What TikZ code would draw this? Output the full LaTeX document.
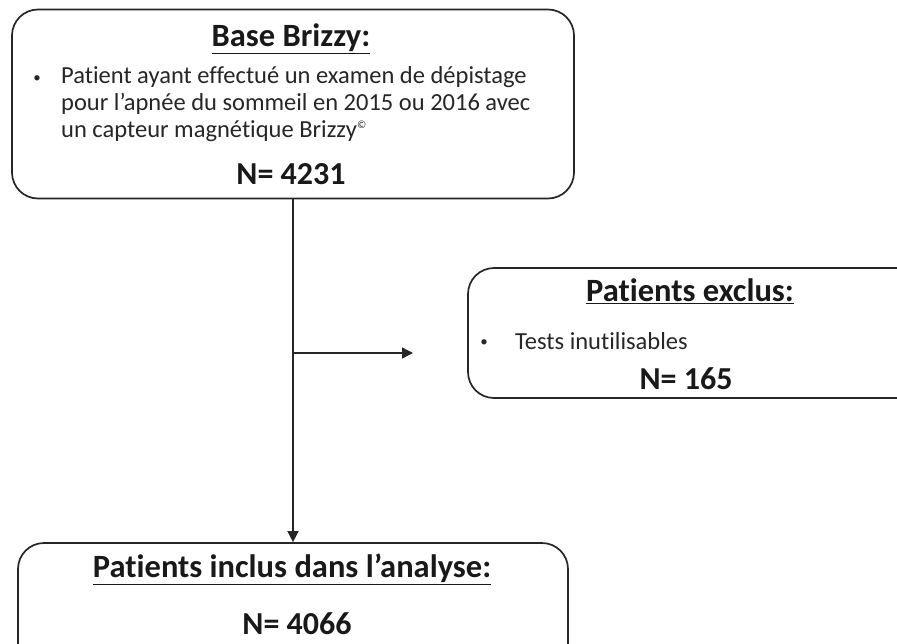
\documentclass[tikz,border=0pt]{standalone}
\usepackage{fontspec}
\setmainfont{Carlito}[Ligatures={NoCommon,NoContextual}]
\usetikzlibrary{arrows.meta,positioning}

\begin{document}
\begin{tikzpicture}[x=1pt,y=-1pt,
  box/.style={draw=black!85,rounded corners=26pt,line width=1.7pt,inner sep=0pt},
  titre/.style={font=\fontsize{32.5}{36}\selectfont\bfseries,text=black!90},
  corps/.style={font=\fontsize{24.5}{27}\selectfont,align=left,inner sep=0pt,text=black!85},
  puce/.style={font=\fontsize{15}{15}\selectfont,inner sep=0pt,text=black!85},
  effectif/.style={font=\fontsize{32}{36}\selectfont\bfseries,text=black!90},
  fleche/.style={draw=black!85,line width=1.4pt,-{Triangle[length=11pt,width=11pt]}}]
\useasboundingbox (0,0) rectangle (897,643);
\clip (0,0) rectangle (897,643);

% boites
\node[box,minimum width=562pt,minimum height=189pt] (base) at (293,104) {};
\node[box,minimum width=460pt,minimum height=130pt] (exclus) at (698,333) {};
\node[box,minimum width=550pt,minimum height=126pt] (inclus) at (293,606) {};

% textes
\node[titre] (base-titre) at (291,39) {\underline{Base Brizzy:}};
\node[puce] (base-puce) at (37,79) {•};
\node[corps,anchor=north west] (base-texte) at (61,66)
  {Patient ayant effectué un examen de dépistage\\
   pour l’apnée du sommeil en 2015 ou 2016 avec\\
   un capteur magnétique Brizzy\raisebox{0.75ex}{\fontsize{11}{11}\selectfont ©}};
\node[effectif] (base-n) at (291,174) {N= 4231};

\node[titre] (exclus-titre) at (690,291) {\underline{Patients exclus:}};
\node[puce] (exclus-puce) at (484,343) {•};
\node[corps,anchor=west] (exclus-texte) at (515,341) {Tests inutilisables};
\node[effectif] (exclus-n) at (686,379) {N= 165};

\node[titre] (inclus-titre) at (292,569) {\underline{Patients inclus dans l’analyse:}};
\node[effectif] (inclus-n) at (297,624) {N= 4066};

% fleches
\coordinate (embranchement) at (base.south |- 0,353);
\coordinate (vers-exclus) at (413,353);
\draw[fleche] (base.south) -- (inclus.north);
\draw[fleche] (embranchement) -- (vers-exclus);
\end{tikzpicture}
\end{document}
